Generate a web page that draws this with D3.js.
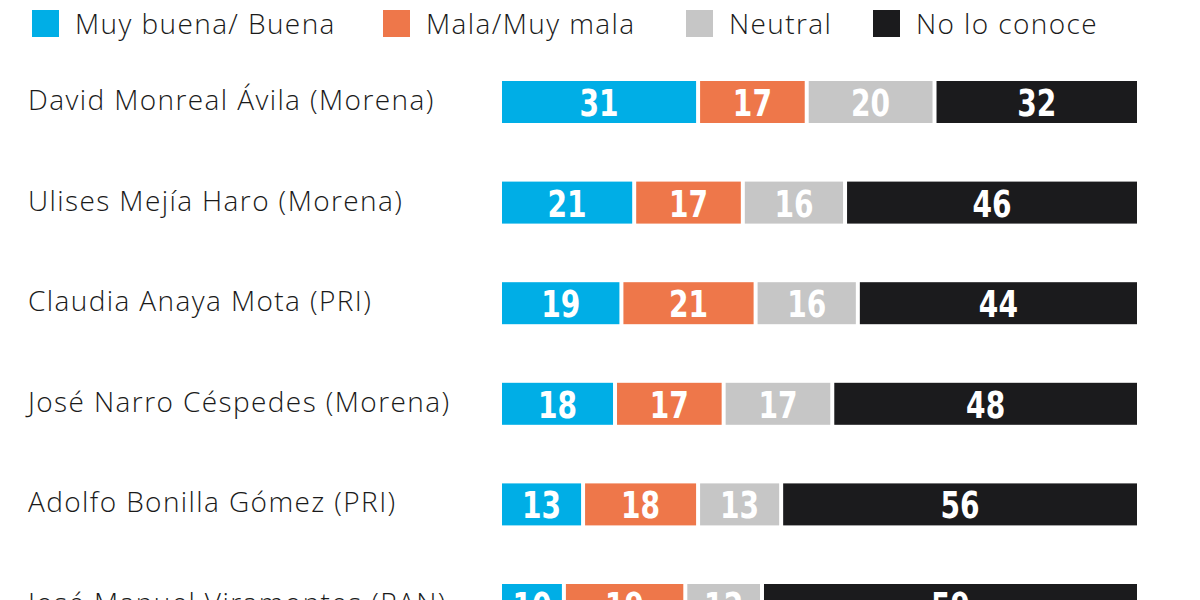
<!DOCTYPE html>
<html>
<head>
<meta charset="utf-8">
<script src="https://cdn.jsdelivr.net/npm/d3@7"></script>
<style>
  body { margin: 0; background: #fff; }
  svg { display: block; }
  .name, .legend-label { font-family: "Open Sans", Lato, sans-serif; font-weight: 300; fill: #1a1a1a; letter-spacing: 1.4px; }
  .value { font-family: "DejaVu Sans", sans-serif; font-weight: bold; fill: #fff; }
</style>
</head>
<body>
<script>
// candidates (top to bottom) and their shares in %
const candidates = [
  "David Monreal Ávila (Morena)",
  "Ulises Mejía Haro (Morena)",
  "Claudia Anaya Mota (PRI)",
  "José Narro Céspedes (Morena)",
  "Adolfo Bonilla Gómez (PRI)",
  "José Manuel Viramontes (PAN)"
];
const categories = ["Muy buena/ Buena", "Mala/Muy mala", "Neutral", "No lo conoce"];
const buena   = [31, 21, 19, 18, 13, 10];
const mala    = [17, 17, 21, 17, 18, 19];
const neutral = [20, 16, 16, 17, 13, 12];
const noConoce = [32, 46, 44, 48, 56, 59];
const colors = ["#00aee6", "#ee774a", "#c6c6c6", "#1b1b1d"];

const width = 1200, height = 600;
const gap = 4;

const rows = candidates.map((name, i) => ({
  name, buena: buena[i], mala: mala[i], neutral: neutral[i], noConoce: noConoce[i]
}));
const keys = ["buena", "mala", "neutral", "noConoce"];
const stack = d3.stack().keys(keys)(rows);

const x = d3.scaleLinear().domain([0, 100]).range([502, 1141]);
const y = d3.scaleBand().domain(candidates).range([81, 626]).paddingInner(0.5825).paddingOuter(0);

const svg = d3.select("body").append("svg")
  .attr("width", width)
  .attr("height", height);

// legend
const legendX = [32, 383, 686, 873];
const legend = svg.append("g").selectAll("g")
  .data(categories)
  .enter().append("g")
  .attr("transform", (d, i) => `translate(${legendX[i]},10)`);
legend.append("rect")
  .attr("width", 27).attr("height", 27)
  .attr("fill", (d, i) => colors[i]);
legend.append("text")
  .attr("class", "legend-label")
  .attr("x", 43).attr("y", 24)
  .attr("font-size", 28)
  .text(d => d);

// candidate names
svg.append("g").selectAll("text")
  .data(candidates)
  .enter().append("text")
  .attr("class", "name")
  .attr("x", 28)
  .attr("y", d => y(d) + y.bandwidth() / 2 + 8)
  .attr("font-size", 28)
  .text(d => d);

// bars
const series = svg.append("g").selectAll("g")
  .data(stack)
  .enter().append("g")
  .attr("fill", (d, i) => colors[i]);

series.selectAll("rect")
  .data(d => d)
  .enter().append("rect")
  .attr("x", d => x(d[0]))
  .attr("y", d => y(d.data.name))
  .attr("width", d => x(d[1]) - x(d[0]) - gap)
  .attr("height", y.bandwidth());

// condensed heavy numbers: squeeze DejaVu bold horizontally
series.selectAll("text")
  .data(d => d)
  .enter().append("text")
  .attr("class", "value")
  .attr("text-anchor", "middle")
  .attr("transform", d => `translate(${(x(d[0]) + x(d[1]) - gap) / 2},${y(d.data.name) + y.bandwidth() / 2 + 14}) scale(0.74,1)`)
  .attr("font-size", 38)
  .text(d => d[1] - d[0]);
</script>
</body>
</html>
